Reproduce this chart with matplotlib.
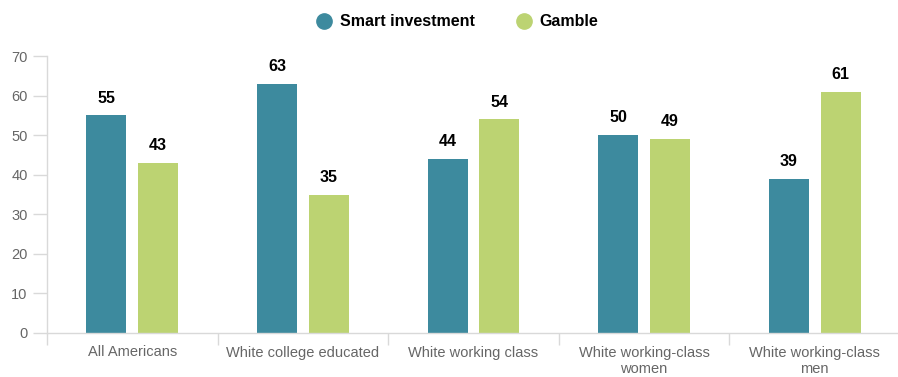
import matplotlib
matplotlib.use("Agg")
import matplotlib.pyplot as plt
from matplotlib.lines import Line2D
import numpy as np

plt.rcParams["font.family"] = ["Liberation Sans", "DejaVu Sans"]

# ── data ──
categories = [
    "All Americans",
    "White college educated",
    "White working class",
    "White working-class\nwomen",
    "White working-class\nmen",
]
smart_investment = [55, 63, 44, 50, 39]
gamble = [43, 35, 54, 49, 61]

TEAL = "#3d8a9e"
GREEN = "#bcd372"
AXIS_GRAY = "#d9d9d9"
LABEL_GRAY = "#666666"

fig = plt.figure(figsize=(8.98, 3.77), dpi=100)
ax = fig.add_axes([47 / 898, 44 / 377, 853 / 898, 277 / 377])

x = np.arange(len(categories))
w = 0.234
off = 0.152
b1 = ax.bar(x - off, smart_investment, width=w, color=TEAL, label="Smart investment")
b2 = ax.bar(x + off, gamble, width=w, color=GREEN, label="Gamble")

for bars, vals in ((b1, smart_investment), (b2, gamble)):
    for rect, v in zip(bars, vals):
        ax.annotate(f"{v}", (rect.get_x() + rect.get_width() / 2, v),
                    xytext=(0, 7), textcoords="offset points",
                    ha="center", va="bottom", fontsize=11.5, fontweight="bold",
                    color="black")

ax.set_xlim(-0.5, len(categories) - 0.5)
ax.set_ylim(0, 70)
ax.set_yticks(range(0, 71, 10))

ax.set_xticks(x)
ax.set_xticklabels(categories, fontsize=10.5, color=LABEL_GRAY, linespacing=1.2)
ax.set_xticks(np.arange(-0.5, len(categories)), minor=True)
ax.tick_params(axis="x", which="major", length=0, pad=9)
ax.tick_params(axis="x", which="minor", length=8.5, width=1, color=AXIS_GRAY)
ax.tick_params(axis="y", length=10, width=1, color=AXIS_GRAY,
               labelsize=10.5, labelcolor=LABEL_GRAY, pad=4)

for side in ("top", "right"):
    ax.spines[side].set_visible(False)
for side in ("left", "bottom"):
    ax.spines[side].set_color(AXIS_GRAY)
    ax.spines[side].set_linewidth(1)

handles = [
    Line2D([], [], linestyle="none", marker="o", markersize=11,
           markerfacecolor=TEAL, markeredgecolor=TEAL),
    Line2D([], [], linestyle="none", marker="o", markersize=11,
           markerfacecolor=GREEN, markeredgecolor=GREEN),
]
fig.legend(handles, ["Smart investment", "Gamble"], loc="center",
           bbox_to_anchor=(0.509, 1 - 22 / 377), ncol=2, frameon=False,
           prop={"weight": "bold", "size": 11.5}, handletextpad=0.5,
           columnspacing=2.6, handlelength=1.0)

fig.savefig("out.png", dpi=100)
